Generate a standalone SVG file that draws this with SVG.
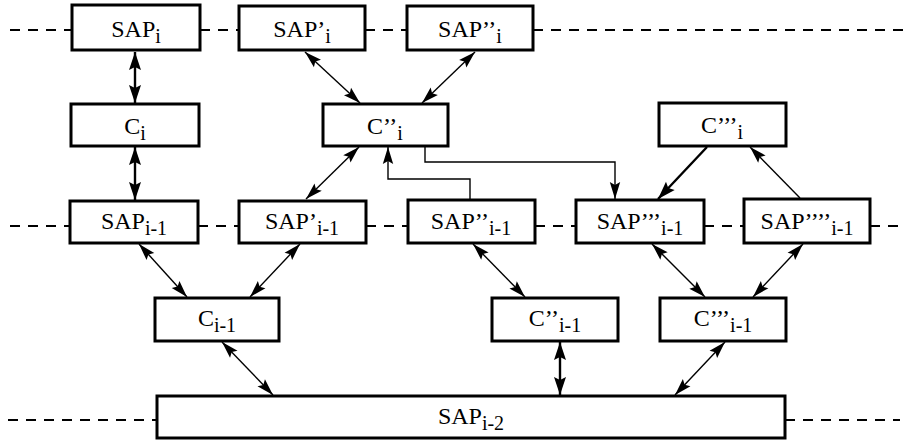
<svg xmlns="http://www.w3.org/2000/svg" width="904" height="441" viewBox="0 0 904 441">
  <defs>
    <style>
      .box { fill: #fff; stroke: #000; stroke-width: 3; }
      .lbl { font-family: 'Liberation Serif', 'DejaVu Serif', serif; font-size: 24px; fill: #000; text-anchor: middle; }
      .sub { font-size: 20px; }
      .dash { stroke: #000; stroke-width: 2; stroke-dasharray: 10 8; fill: none; }
      .thin { stroke: #000; stroke-width: 1.4; fill: none; }
      .bold { stroke: #000; stroke-width: 2.4; fill: none; }
    </style>
    <marker id="ah" markerUnits="userSpaceOnUse" viewBox="-18 -6 19 12" refX="0" refY="0" markerWidth="19" markerHeight="12" orient="auto-start-reverse">
      <path d="M0,0 L-17,-5.2 L-14,0 L-17,5.2 Z" fill="#000"/>
    </marker>
    <marker id="ahb" markerUnits="userSpaceOnUse" viewBox="-19 -7 20 14" refX="0" refY="0" markerWidth="20" markerHeight="14" orient="auto-start-reverse">
      <path d="M0,0 L-18,-6 L-15,0 L-18,6 Z" fill="#000"/>
    </marker>
  </defs>

  <!-- layer lines -->
  <g id="layers">
    <path class="dash" d="M10,30 H72 M200,30 H239 M365,30 H407 M533,30 H904"/>
    <path class="dash" d="M10,226 H70 M198,226 H239 M366,226 H408 M535,226 H576 M704,226 H744 M870,226 H904"/>
    <path class="dash" d="M8,420 H157 M785,420 H900"/>
  </g>

  <!-- connectors -->
  <g id="connectors">
    <line class="bold" x1="135" y1="52" x2="135" y2="103" marker-start="url(#ahb)" marker-end="url(#ahb)"/>
    <line class="bold" x1="135" y1="147" x2="135" y2="200" marker-start="url(#ahb)" marker-end="url(#ahb)"/>
    <line class="thin" x1="305" y1="52" x2="360" y2="103" marker-start="url(#ah)" marker-end="url(#ah)"/>
    <line class="thin" x1="475" y1="52" x2="422" y2="103" marker-start="url(#ah)" marker-end="url(#ah)"/>
    <line class="thin" x1="306" y1="199" x2="359" y2="147" marker-start="url(#ah)" marker-end="url(#ah)"/>
    <path class="thin" d="M470,200 V179 H388 V147" marker-end="url(#ah)"/>
    <path class="thin" d="M425,147 V162 H615 V199" marker-end="url(#ah)"/>
    <line class="bold" x1="707" y1="147" x2="658" y2="199" marker-end="url(#ahb)"/>
    <line class="thin" x1="800" y1="198" x2="750" y2="147" marker-end="url(#ah)"/>
    <line class="thin" x1="139" y1="244" x2="187" y2="297" marker-start="url(#ah)" marker-end="url(#ah)"/>
    <line class="thin" x1="300" y1="244" x2="250" y2="297" marker-start="url(#ah)" marker-end="url(#ah)"/>
    <line class="thin" x1="473" y1="244" x2="525" y2="297" marker-start="url(#ah)" marker-end="url(#ah)"/>
    <line class="thin" x1="652" y1="244" x2="705" y2="297" marker-start="url(#ah)" marker-end="url(#ah)"/>
    <line class="thin" x1="803" y1="244" x2="753" y2="297" marker-start="url(#ah)" marker-end="url(#ah)"/>
    <line class="thin" x1="222" y1="342" x2="273" y2="395" marker-start="url(#ah)" marker-end="url(#ah)"/>
    <line class="bold" x1="560" y1="342" x2="560" y2="395" marker-start="url(#ahb)" marker-end="url(#ahb)"/>
    <line class="thin" x1="725" y1="342" x2="675" y2="395" marker-start="url(#ah)" marker-end="url(#ah)"/>
  </g>

  <!-- level i -->
  <g id="sap-i">
    <rect class="box" x="72" y="5" width="128" height="45"/>
    <text class="lbl" x="136" y="37">SAP<tspan class="sub" dy="6">i</tspan></text>
  </g>
  <g id="sap1-i">
    <rect class="box" x="239" y="6" width="126" height="44"/>
    <text class="lbl" x="302" y="37">SAP’<tspan class="sub" dy="6">i</tspan></text>
  </g>
  <g id="sap2-i">
    <rect class="box" x="407" y="6" width="126" height="44"/>
    <text class="lbl" x="470" y="37">SAP’’<tspan class="sub" dy="6">i</tspan></text>
  </g>
  <g id="c-i">
    <rect class="box" x="71" y="104" width="128" height="42"/>
    <text class="lbl" x="135" y="134">C<tspan class="sub" dy="6">i</tspan></text>
  </g>
  <g id="c2-i">
    <rect class="box" x="323" y="104" width="125" height="42"/>
    <text class="lbl" x="385" y="134">C’’<tspan class="sub" dy="6">i</tspan></text>
  </g>
  <g id="c3-i">
    <rect class="box" x="659" y="103" width="127" height="43"/>
    <text class="lbl" x="722" y="133">C’’’<tspan class="sub" dy="6">i</tspan></text>
  </g>

  <!-- level i-1 -->
  <g id="sap-i-1">
    <rect class="box" x="70" y="201" width="128" height="42"/>
    <text class="lbl" x="134" y="229">SAP<tspan class="sub" dy="6">i-1</tspan></text>
  </g>
  <g id="sap1-i-1">
    <rect class="box" x="239" y="201" width="127" height="42"/>
    <text class="lbl" x="302" y="229">SAP’<tspan class="sub" dy="6">i-1</tspan></text>
  </g>
  <g id="sap2-i-1">
    <rect class="box" x="408" y="200" width="127" height="43"/>
    <text class="lbl" x="471" y="229">SAP’’<tspan class="sub" dy="6">i-1</tspan></text>
  </g>
  <g id="sap3-i-1">
    <rect class="box" x="576" y="200" width="128" height="43"/>
    <text class="lbl" x="640" y="229">SAP’’’<tspan class="sub" dy="6">i-1</tspan></text>
  </g>
  <g id="sap4-i-1">
    <rect class="box" x="744" y="199" width="126" height="44"/>
    <text class="lbl" x="807" y="229">SAP’’’’<tspan class="sub" dy="6">i-1</tspan></text>
  </g>
  <g id="c-i-1">
    <rect class="box" x="155" y="298" width="124" height="43"/>
    <text class="lbl" x="217" y="326">C<tspan class="sub" dy="6">i-1</tspan></text>
  </g>
  <g id="c2-i-1">
    <rect class="box" x="492" y="298" width="126" height="43"/>
    <text class="lbl" x="555" y="326">C’’<tspan class="sub" dy="6">i-1</tspan></text>
  </g>
  <g id="c3-i-1">
    <rect class="box" x="660" y="298" width="126" height="43"/>
    <text class="lbl" x="723" y="326">C’’’<tspan class="sub" dy="6">i-1</tspan></text>
  </g>

  <!-- level i-2 -->
  <g id="sap-i-2">
    <rect class="box" x="157" y="396" width="628" height="42"/>
    <text class="lbl" x="471" y="424">SAP<tspan class="sub" dy="6">i-2</tspan></text>
  </g>
</svg>
